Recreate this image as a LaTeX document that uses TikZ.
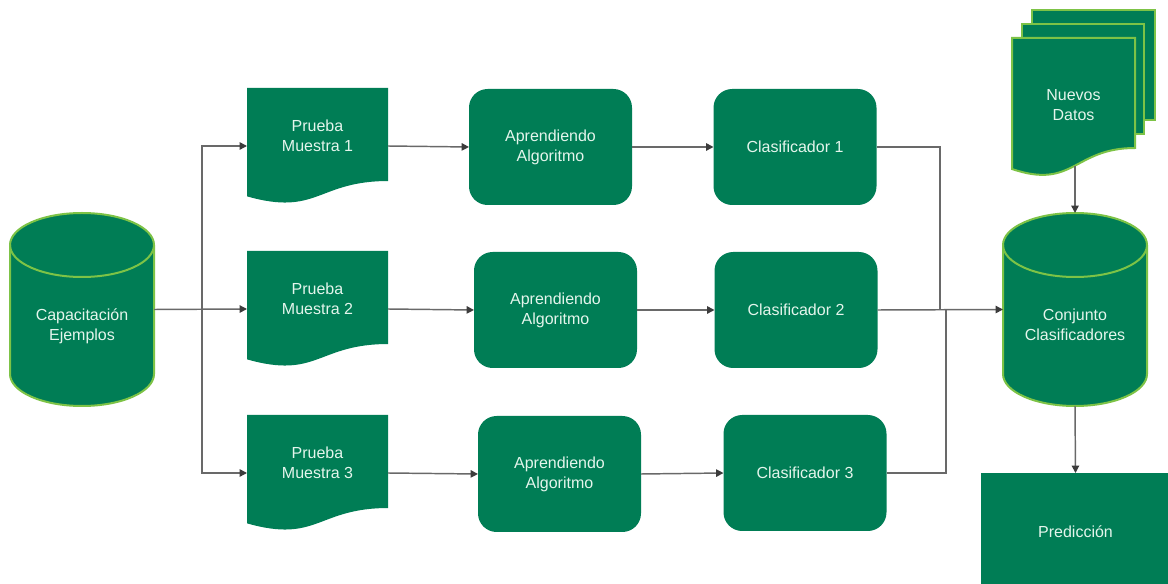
\documentclass[tikz,border=0pt]{standalone}
\usepackage{fontspec}
\setmainfont{Liberation Sans}
\usetikzlibrary{arrows.meta,backgrounds,calc}

\definecolor{boxgreen}{RGB}{0,125,85}
\definecolor{rimgreen}{RGB}{125,195,70}
\definecolor{labeltext}{RGB}{228,245,236}
\definecolor{wiregray}{RGB}{105,105,105}
\definecolor{tipgray}{RGB}{60,60,60}
\newcommand\pxu{0.75pt}

% cylinder body drawn from the frame of a node
\newcommand\cylinderbody[1]{%
  \path[rim] let \p1=(#1.north west), \p2=(#1.south east), \n1={(\x2-\x1)/2} in
    (\x1,\y1-24pt) -- (\x1,\y2+24pt)
    arc[start angle=180, end angle=360, x radius=\n1, y radius=24pt]
    -- (\x2,\y1-24pt)
    arc[start angle=0, end angle=180, x radius=\n1, y radius=24pt] -- cycle;
  \draw[rimline] let \p1=(#1.north west), \p2=(#1.south east), \n1={(\x2-\x1)/2} in
    (\x1,\y1-24pt) arc[start angle=180, end angle=360, x radius=\n1, y radius=24pt];}

% document sheet with a wavy lower edge
\newcommand\docsheet[1]{%
  \fill[boxgreen] let \p1=(#1.north west), \p2=(#1.south east) in
    (\x1,\y1) -- (\x2,\y1) -- (\x2,{\y1+0.802*(\y2-\y1)})
    .. controls ({(\x1+\x2)/2},{\y1+0.802*(\y2-\y1)}) and ({(\x1+\x2)/2},{\y1+1.1075*(\y2-\y1)})
    .. (\x1,{\y1+0.934*(\y2-\y1)}) -- cycle;}

\begin{document}
\begin{tikzpicture}[x=0.75pt,y=-0.75pt,
  every node/.style={font=\fontsize{12}{15}\selectfont, text=labeltext, align=center,
    inner sep=0pt, outer sep=0pt},
  procbox/.style={fill=boxgreen, rounded corners=14pt, minimum width=163*\pxu, minimum height=116*\pxu},
  docnode/.style={minimum width=141*\pxu, minimum height=116*\pxu},
  cylnode/.style={minimum width=144*\pxu, minimum height=193*\pxu},
  rim/.style={fill=boxgreen, draw=rimgreen, line width=1.5pt},
  rimline/.style={draw=rimgreen, line width=1.5pt},
  wire/.style={draw=wiregray, line width=1.1pt},
  flow/.style={wire, -{Triangle[length=5.5pt,width=5.5pt,color=tipgray]}}]

\useasboundingbox (0,0) rectangle (1168,584);

% training data
\node[cylnode] (cylA) at (82,309.5) {\rule{0pt}{36.25pt}Capacitación\\Ejemplos\rule[-4pt]{0pt}{4pt}};

% samples
\node[docnode] (d1) at (317.5,146) {Prueba\\Muestra 1\rule[-15.5pt]{0pt}{15.5pt}};
\node[docnode] (d2) at (317.5,309) {Prueba\\Muestra 2\rule[-15.5pt]{0pt}{15.5pt}};
\node[docnode] (d3) at (317.5,473) {Prueba\\Muestra 3\rule[-15.5pt]{0pt}{15.5pt}};

% learners
\node[procbox] (a1) at (550.5,147) {Aprendiendo\\Algoritmo};
\node[procbox] (a2) at (555.5,310) {Aprendiendo\\Algoritmo};
\node[procbox] (a3) at (559.5,474) {Aprendiendo\\Algoritmo};

% classifiers
\node[procbox] (c1) at (795,147) {Clasificador 1};
\node[procbox] (c2) at (796,310) {Clasificador 2};
\node[procbox] (c3) at (805,473) {Clasificador 3};

% ensemble
\node[cylnode] (cylB) at (1075,309.5) {\rule{0pt}{36.25pt}Conjunto\\Clasificadores\rule[-4pt]{0pt}{4pt}};

% new data (stack of sheets)
\node[minimum width=123*\pxu, minimum height=134*\pxu] (nd) at (1073.5,105) {Nuevos\\Datos};
\coordinate (ndb) at (1075,166);

% prediction
\node[fill=boxgreen, minimum width=189*\pxu, minimum height=118*\pxu] (pred) at (1075.5,532) {Predicción};

\begin{scope}[on background layer]
  \fill[white] (0,0) rectangle (1168,584);
  \cylinderbody{cylA}
  \cylinderbody{cylB}
  \docsheet{d1}
  \docsheet{d2}
  \docsheet{d3}
  \path[rim] (1032,10) rectangle (1155,120);
  \path[rim] (1022,24) rectangle (1144,134);
  \path[rim] (1012,38) -- (1135,38) -- (1135,148)
    .. controls (1073.6,148) and (1073.6,190) .. (1012,169) -- cycle;
\end{scope}

% connectors
\coordinate (jL) at (202,309.5);
\draw[flow] (cylA.east) -- (d2.west);
\draw[flow] (jL) |- (d1.west);
\draw[flow] (jL) |- (d3.west);

\draw[flow] (d1.east) -- (a1.west);
\draw[flow] (d2.east) -- (a2.west);
\draw[flow] (d3.east) -- (a3.west);

\draw[flow] (a1.east) -- (c1.west);
\draw[flow] (a2.east) -- (c2.west);
\draw[flow] (a3.east) -- (c3.west);

\coordinate (jR1) at (940,310);
\coordinate (jR3) at (946,310);
\draw[wire] (c1.east) -| (jR1);
\draw[wire] (c3.east) -| (jR3);
\draw[flow] (c2.east) -- (cylB.west);

\draw[flow] (ndb) -- (cylB.north);
\draw[flow] (cylB.south) -- (pred.north);
\end{tikzpicture}
\end{document}
